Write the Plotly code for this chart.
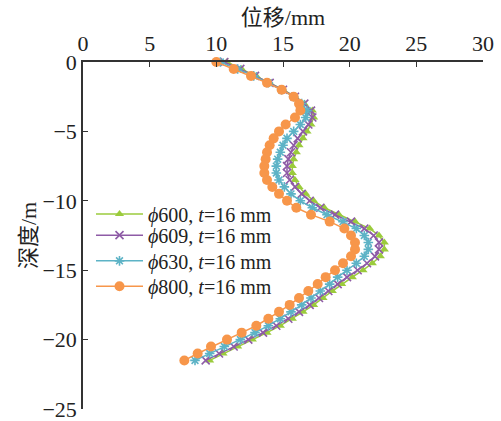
import plotly.graph_objects as go

depth = [0, -0.5, -1, -1.5, -2, -2.5, -3, -3.5, -4, -4.5, -5, -5.5, -6, -6.5, -7, -7.5,
         -8, -8.5, -9, -9.5, -10, -10.5, -11, -11.5, -12, -12.5, -13, -13.5, -14, -14.5,
         -15, -15.5, -16, -16.5, -17, -17.5, -18, -18.5, -19, -19.5, -20, -20.5, -21, -21.5]

disp_600 = [10.8, 11.9, 13.0, 14.0, 15.0, 15.9, 16.6, 17.2, 17.3, 17.1, 16.8, 16.5, 16.2, 16.0, 15.8, 15.7,
            15.7, 15.9, 16.2, 16.7, 17.3, 18.1, 19.2, 20.4, 21.5, 22.2, 22.6, 22.6, 22.3, 21.7,
            21.0, 20.2, 19.4, 18.7, 18.0, 17.3, 16.5, 15.7, 14.8, 13.8, 12.7, 11.6, 10.5, 9.5]
disp_609 = [10.6, 11.8, 12.9, 14.0, 15.0, 15.9, 16.6, 17.1, 17.2, 16.9, 16.5, 16.1, 15.8, 15.6, 15.4, 15.3,
            15.3, 15.5, 15.9, 16.4, 17.0, 17.8, 18.9, 20.1, 21.1, 21.8, 22.2, 22.2, 21.9, 21.3,
            20.6, 19.8, 19.1, 18.4, 17.7, 17.0, 16.2, 15.4, 14.5, 13.5, 12.4, 11.3, 10.2, 9.2]
disp_630 = [10.3, 11.6, 12.8, 13.9, 14.9, 15.8, 16.4, 16.8, 16.7, 16.3, 15.8, 15.3, 15.0, 14.8, 14.6, 14.5,
            14.5, 14.7, 15.1, 15.6, 16.3, 17.2, 18.3, 19.5, 20.5, 21.1, 21.4, 21.4, 21.1, 20.5,
            19.8, 19.1, 18.5, 17.8, 17.1, 16.4, 15.6, 14.8, 13.9, 12.9, 11.8, 10.6, 9.5, 8.4]
disp_800 = [10.0, 11.3, 12.6, 13.8, 14.9, 15.8, 16.2, 16.3, 15.9, 15.2, 14.7, 14.3, 14.0, 13.8, 13.7, 13.6,
            13.6, 13.8, 14.2, 14.7, 15.3, 16.0, 17.1, 18.5, 19.6, 20.1, 20.4, 20.4, 20.1, 19.5,
            18.9, 18.2, 17.6, 16.9, 16.2, 15.5, 14.7, 13.9, 13.0, 11.9, 10.8, 9.6, 8.6, 7.6]

names = ["<i>ϕ</i>600, <i>t</i>=16 mm", "<i>ϕ</i>609, <i>t</i>=16 mm",
         "<i>ϕ</i>630, <i>t</i>=16 mm", "<i>ϕ</i>800, <i>t</i>=16 mm"]
series = [disp_600, disp_609, disp_630, disp_800]
colors = ["#9BCB3C", "#8E5BA6", "#5DB3C6", "#F7964A"]
symbols = ["triangle-up", "x-thin", "asterisk", "circle"]
sizes = [8, 8, 8, 10]
legend_ids = ["legend", "legend2", "legend3", "legend4"]
legend_y = [0.562, 0.501, 0.427, 0.354]

FONT = "Liberation Serif, Times New Roman, Noto Sans CJK SC, serif"
FS = 22
LFS = 20

fig = go.Figure()
for nm, ys, c, s, sz, lg in zip(names, series, colors, symbols, sizes, legend_ids):
    marker = dict(symbol=s, size=sz, color=c)
    if s in ("x-thin", "asterisk"):
        marker["line"] = dict(color=c, width=1.6)
    fig.add_trace(go.Scatter(x=ys, y=depth, mode="lines+markers", name=nm, legend=lg,
                             line=dict(color=c, width=1.5), marker=marker, cliponaxis=False))

legends = {}
for lg, ly in zip(legend_ids, legend_y):
    legends[lg] = dict(x=0.02, y=ly, xanchor="left", yanchor="middle",
                       bgcolor="rgba(0,0,0,0)", font=dict(size=LFS, family=FONT, color="#222"),
                       itemwidth=47, borderwidth=0)

fig.update_layout(
    width=501, height=421,
    margin=dict(l=83, r=18, t=62, b=12, autoexpand=False),
    paper_bgcolor="white", plot_bgcolor="white",
    font=dict(family=FONT, size=FS, color="#222"),
    showlegend=True,
    xaxis=dict(side="top", range=[0, 30], dtick=5, showgrid=False, zeroline=False,
               showline=True, linecolor="#333", linewidth=1.5, automargin=False,
               ticks="inside", ticklen=5, tickcolor="#333", ticklabeloverflow="allow",
               tickfont=dict(size=FS, family=FONT),
               title=dict(text="位移/mm", font=dict(size=FS, family=FONT), standoff=0)),
    yaxis=dict(range=[-25, 0], dtick=5, showgrid=False, zeroline=False,
               showline=True, linecolor="#333", linewidth=1.5, automargin=False,
               ticks="inside", ticklen=5, tickcolor="#333", ticklabeloverflow="allow",
               tickfont=dict(size=FS, family=FONT),
               title=dict(text="深度/m", font=dict(size=FS, family=FONT), standoff=0)),
    **legends,
)

fig.write_html("out.html")
